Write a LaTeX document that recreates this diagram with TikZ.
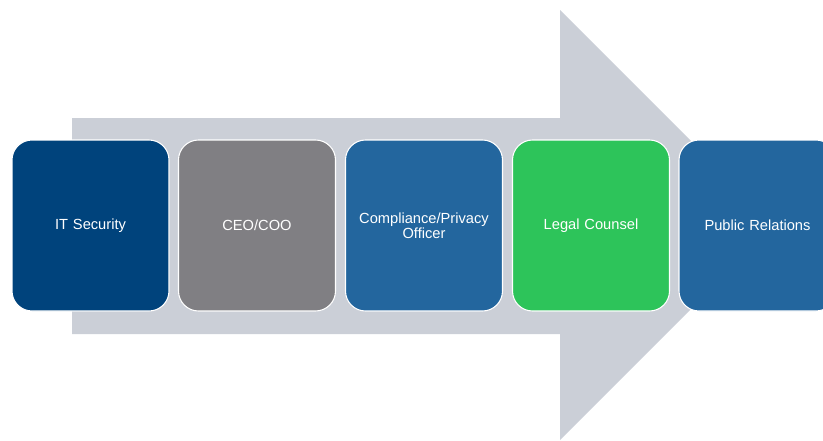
\documentclass[tikz,border=0pt]{standalone}
\usepackage{fontspec}
\setmainfont{Liberation Sans}
\definecolor{arrowgray}{RGB}{203,207,215}
\definecolor{darkblue}{RGB}{0,67,124}
\definecolor{midgray}{RGB}{128,127,131}
\definecolor{midblue}{RGB}{35,102,158}
\definecolor{green}{RGB}{45,196,90}
\begin{document}
\begin{tikzpicture}[x={(0.75pt,0)},y={(0,-0.75pt)},
  stage/.style={rectangle,rounded corners=15pt,draw=white,line width=0.8pt,
    minimum width=117.75pt,minimum height=128.25pt,inner sep=2pt,
    text=white,font=\fontsize{11}{11.5}\selectfont,align=center,text width=110pt}]
\useasboundingbox (0,0) rectangle (823,440);
\clip (0,0) rectangle (823,440);
\fill[arrowgray] (72,118) -- (560,118) -- (560,10) -- (775,225) -- (560,440) -- (560,334) -- (72,334) -- cycle;
\node[stage,fill=darkblue] (it) at (90.5,225.5) {\raisebox{-1.5pt}{IT Security}};
\node[stage,fill=midgray] (ceo) at (257,225.5) {\raisebox{-1.5pt}{CEO/COO}};
\node[stage,fill=midblue] (comp) at (424,225.5) {Compliance/Privacy\\Officer};
\node[stage,fill=green] (legal) at (591,225.5) {\raisebox{-1.5pt}{Legal Counsel}};
\node[stage,fill=midblue] (pr) at (757.5,225.5) {\raisebox{-1.5pt}{Public Relations}};
\end{tikzpicture}
\end{document}
